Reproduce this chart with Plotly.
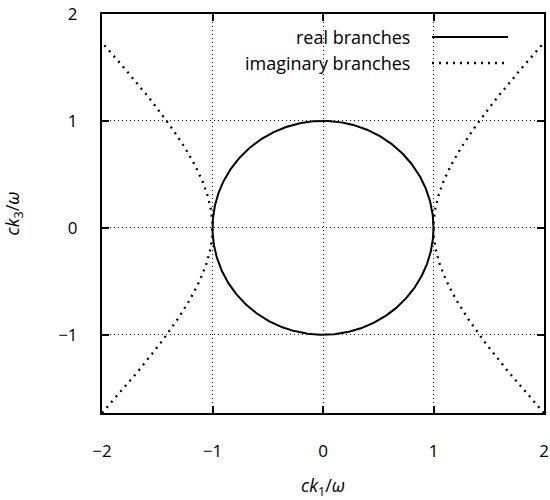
import numpy as np
import plotly.graph_objects as go

# Axis ticks
x_ticks = [-2, -1, 0, 1, 2]
y_ticks = [-1, 0, 1, 2]
x_range = [-2, 2]
y_range = [-np.sqrt(3), 2]

# Series names
series_names = ["real branches", "imaginary branches"]

# Real branch: (ck1/w)^2 + (ck3/w)^2 = 1
theta = np.linspace(0, 2 * np.pi, 721)
real_k1 = np.cos(theta)
real_k3 = np.sin(theta)

# Imaginary branch: (ck1/w)^2 - (ck3/w)^2 = 1, clipped to |ck1/w| <= 2
k3_im = np.linspace(-np.sqrt(3), np.sqrt(3), 601)
imag_k1_right = np.sqrt(1 + k3_im ** 2)
imag_k1 = np.concatenate([imag_k1_right, [np.nan], -imag_k1_right])
imag_k3 = np.concatenate([k3_im, [np.nan], k3_im])

FONT = "Open Sans"
DOT = "2px,5px"

fig = go.Figure()
fig.add_trace(go.Scatter(
    x=real_k1, y=real_k3, mode="lines", name=series_names[0],
    line=dict(color="black", width=2), showlegend=False,
))
fig.add_trace(go.Scatter(
    x=imag_k1, y=imag_k3, mode="lines", name=series_names[1],
    line=dict(color="black", width=2.3, dash=DOT), showlegend=False,
    connectgaps=False,
))

axis_common = dict(
    showline=True, linecolor="black", linewidth=2, mirror="ticks",
    ticks="inside", ticklen=7, tickwidth=1.5, tickcolor="black",
    showgrid=True, gridcolor="black", gridwidth=1, griddash="1px,3px",
    zeroline=False, automargin=False,
    tickfont=dict(family=FONT, size=17, color="black"),
)

fig.update_xaxes(
    range=x_range, tickvals=x_ticks, ticklabelstandoff=22,
    title=dict(text="<i>ck</i><sub>1</sub>/<i>ω</i>",
               font=dict(family=FONT, size=18, color="black"), standoff=23),
    **axis_common,
)
fig.update_yaxes(
    range=y_range, tickvals=y_ticks, ticklabelstandoff=19,
    title=dict(text="<i>ck</i><sub>3</sub>/<i>ω</i>",
               font=dict(family=FONT, size=18, color="black"), standoff=44),
    **axis_common,
)

# Key: label text on the left, line sample on the right
key_rows = [(0.9424, "solid"), (0.8772, DOT)]
for name, (yy, dash) in zip(series_names, key_rows):
    fig.add_annotation(
        x=0.7014, y=yy, xref="paper", yref="paper", text=name,
        showarrow=False, xanchor="right", yanchor="middle",
        font=dict(family=FONT, size=18, color="black"),
    )
    fig.add_shape(
        type="line", xref="paper", yref="paper",
        x0=0.7466, x1=0.9186, y0=yy, y1=yy,
        line=dict(color="black", width=2 if dash == "solid" else 2.3, dash=dash),
    )

fig.update_layout(
    width=550, height=500,
    margin=dict(l=102, r=6, t=14, b=87),
    paper_bgcolor="white", plot_bgcolor="white",
    showlegend=False,
)

fig.write_html("out.html")
